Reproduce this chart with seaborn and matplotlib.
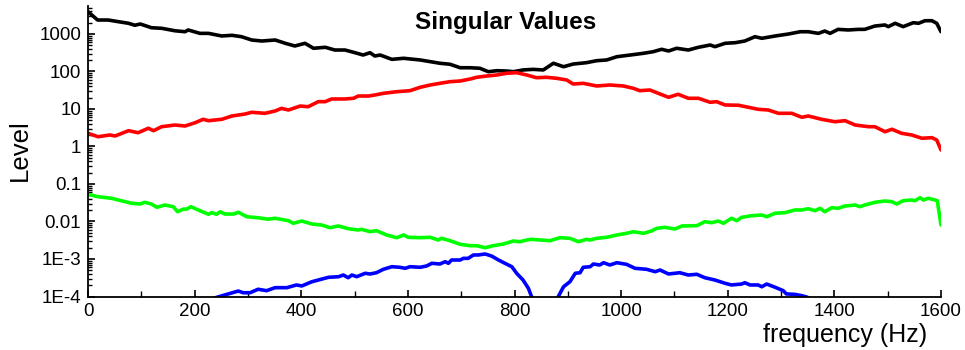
import numpy as np
import pandas as pd
import matplotlib
matplotlib.use("Agg")
import matplotlib.pyplot as plt
import seaborn as sns
from matplotlib.ticker import FixedLocator, FixedFormatter, LogLocator, NullFormatter, MultipleLocator

# ---------------- data ----------------
black_f = [0, 18, 38, 57, 76, 88, 98, 119, 138, 163, 182, 188, 210, 226, 251, 270, 288, 307, 326, 351,
           370, 388, 407, 423, 445, 463, 482, 501, 516, 529, 538, 548, 570, 592, 623, 642, 660, 679, 698,
           717, 735, 751, 767, 785, 798, 816, 835, 854, 873, 892, 910, 935, 954, 973, 992, 1017, 1042,
           1060, 1076, 1089, 1104, 1126, 1145, 1167, 1176, 1195, 1214, 1232, 1251, 1264, 1289, 1314,
           1336, 1351, 1370, 1382, 1392, 1407, 1426, 1445, 1457, 1476, 1495, 1501, 1514, 1529, 1548,
           1558, 1570, 1583, 1592, 1600]
black_v = [3940, 2360, 2360, 2130, 1930, 1710, 1850, 1470, 1420, 1220, 1150, 1280, 1040, 1040, 885, 923,
           847, 692, 650, 692, 565, 479, 565, 416, 442, 374, 374, 317, 275, 317, 259, 275, 211, 225, 203,
           183, 166, 156, 126, 126, 122, 98.8, 105, 103, 98.8, 110, 114, 110, 166, 134, 158, 172, 194,
           203, 248, 275, 306, 337, 391, 352, 416, 374, 442, 509, 459, 565, 586, 650, 847, 768, 885,
           1000, 1150, 1150, 1040, 1200, 1040, 1330, 1280, 1330, 1330, 1630, 1740, 1570, 1930, 1570,
           2000, 1930, 2260, 2260, 1930, 1150]

red_f = [0, 19, 41, 51, 76, 94, 113, 123, 138, 163, 182, 201, 216, 226, 251, 270, 295, 307, 332, 351,
         363, 376, 398, 413, 432, 445, 457, 482, 498, 507, 526, 538, 554, 579, 604, 623, 642, 660, 679,
         698, 717, 729, 748, 767, 785, 804, 823, 841, 860, 879, 898, 910, 929, 954, 979, 1004, 1023,
         1035, 1054, 1073, 1089, 1107, 1126, 1145, 1167, 1179, 1195, 1220, 1239, 1257, 1276, 1295,
         1320, 1339, 1351, 1376, 1401, 1420, 1439, 1464, 1476, 1495, 1508, 1526, 1545, 1564, 1583,
         1592, 1600]
red_v = [2.25, 1.82, 2.03, 1.91, 2.64, 2.33, 3.06, 2.64, 3.37, 3.74, 3.52, 4.31, 5.31, 4.88, 5.31, 6.51,
         7.36, 8.17, 7.68, 8.85, 10.4, 9.4, 12.0, 11.5, 15.7, 15.7, 18.5, 18.5, 19.3, 22.2, 22.2, 23.6,
         26.2, 28.9, 30.8, 37.9, 43.7, 48.4, 53.5, 55.8, 63.1, 70.0, 75.9, 80.7, 89.5, 92.9, 80.7, 68.4,
         70.0, 65.9, 59.3, 46.4, 48.4, 41.1, 43.7, 41.1, 35.6, 30.8, 32.1, 25.1, 20.5, 24.7, 19.3, 19.3,
         15.1, 15.7, 12.8, 12.6, 11.1, 9.82, 9.4, 7.68, 7.68, 6.01, 6.51, 5.31, 4.58, 4.88, 3.74, 3.37,
         3.37, 2.48, 2.88, 2.25, 2.03, 1.66, 1.72, 1.49, 0.807]

green_f = [0, 19, 44, 57, 82, 98, 106, 119, 129, 144, 160, 168, 179, 185, 193, 210, 226, 232, 241, 248,
           257, 273, 282, 298, 319, 338, 351, 376, 385, 401, 420, 438, 454, 470, 488, 507, 513, 529, 541,
           560, 579, 592, 601, 623, 642, 657, 663, 679, 698, 717, 729, 745, 760, 779, 798, 810, 823, 832,
           848, 867, 885, 904, 920, 935, 942, 954, 973, 992, 1010, 1023, 1042, 1057, 1067, 1082, 1101,
           1114, 1142, 1157, 1170, 1182, 1192, 1207, 1217, 1226, 1245, 1264, 1273, 1289, 1307, 1326,
           1339, 1351, 1364, 1373, 1382, 1395, 1407, 1420, 1439, 1448, 1457, 1476, 1495, 1508, 1517,
           1529, 1545, 1551, 1561, 1567, 1576, 1589, 1593, 1600]
green_v = [0.0531, 0.0458, 0.0416, 0.0374, 0.0306, 0.0293, 0.0325, 0.0293, 0.0239, 0.0275, 0.0248,
           0.0182, 0.0215, 0.0213, 0.0248, 0.0194, 0.0156, 0.0172, 0.0156, 0.0182, 0.0158, 0.0158,
           0.0176, 0.0134, 0.0126, 0.0115, 0.0122, 0.0105, 0.00895, 0.0103, 0.00857, 0.00807, 0.00684,
           0.00759, 0.00643, 0.00593, 0.00619, 0.00535, 0.00569, 0.00437, 0.00370, 0.00437, 0.00379,
           0.00370, 0.00379, 0.00321, 0.00356, 0.00308, 0.00247, 0.00226, 0.00226, 0.00200, 0.00226,
           0.00251, 0.00302, 0.00289, 0.00321, 0.00335, 0.00321, 0.00308, 0.00370, 0.00356, 0.00289,
           0.00335, 0.00321, 0.00356, 0.00379, 0.00437, 0.00484, 0.00535, 0.00484, 0.00558, 0.00659,
           0.00700, 0.00631, 0.00759, 0.00773, 0.00989, 0.00929, 0.0103, 0.00895, 0.0122, 0.0105,
           0.0129, 0.0143, 0.0149, 0.0134, 0.0166, 0.0172, 0.0203, 0.0203, 0.0219, 0.0194, 0.0225,
           0.0182, 0.0233, 0.0225, 0.0259, 0.0275, 0.0248, 0.0275, 0.0325, 0.0352, 0.0337, 0.0293,
           0.0359, 0.0374, 0.0359, 0.0431, 0.0374, 0.0416, 0.0374, 0.0359, 0.00807]

blue_f = [236, 263, 282, 291, 304, 319, 335, 351, 373, 391, 401, 420, 432, 451, 470, 479, 488, 495, 504,
          520, 529, 541, 554, 570, 585, 595, 604, 623, 635, 645, 660, 670, 676, 682, 698, 704, 713, 723,
          732, 745, 757, 770, 782, 795, 804, 816, 826, 832, 845, 857, 870, 882, 892, 904, 914, 923, 929,
          942, 948, 960, 967, 979, 992, 1010, 1026, 1048, 1064, 1073, 1089, 1110, 1126, 1142, 1157,
          1176, 1195, 1207, 1226, 1232, 1242, 1257, 1264, 1273, 1289, 1304, 1310, 1326, 1339, 1348, 1360]
blue_v = [0.9e-4, 1.17e-4, 1.40e-4, 1.26e-4, 1.26e-4, 1.56e-4, 1.43e-4, 1.72e-4, 1.72e-4, 2.03e-4,
          1.91e-4, 2.48e-4, 2.75e-4, 3.25e-4, 3.37e-4, 3.74e-4, 3.17e-4, 3.74e-4, 3.37e-4, 4.16e-4,
          3.98e-4, 4.31e-4, 5.31e-4, 6.23e-4, 6.01e-4, 5.65e-4, 6.23e-4, 6.01e-4, 6.51e-4, 7.68e-4,
          7.36e-4, 8.47e-4, 7.68e-4, 9.40e-4, 9.40e-4, 1.04e-3, 1.04e-3, 1.28e-3, 1.28e-3, 1.36e-3,
          1.20e-3, 9.40e-4, 7.68e-4, 6.23e-4, 4.16e-4, 2.75e-4, 1.66e-4, 0.99e-4, 3e-5, 1e-5, 3e-5,
          0.99e-4, 1.82e-4, 2.48e-4, 4.16e-4, 4.31e-4, 6.01e-4, 6.23e-4, 7.36e-4, 6.92e-4, 7.97e-4,
          6.92e-4, 7.97e-4, 7.22e-4, 5.65e-4, 5.31e-4, 4.58e-4, 5.09e-4, 3.98e-4, 4.31e-4, 3.74e-4,
          3.91e-4, 3.17e-4, 2.75e-4, 2.25e-4, 2.03e-4, 2.15e-4, 2.33e-4, 2.03e-4, 2.03e-4, 1.82e-4,
          2.15e-4, 1.76e-4, 1.43e-4, 1.17e-4, 1.14e-4, 1.05e-4, 0.97e-4, 0.8e-4]

series = [
    ("s1", black_f, black_v, "#000000"),
    ("s2", red_f, red_v, "#ff0000"),
    ("s3", green_f, green_v, "#00ff00"),
    ("s4", blue_f, blue_v, "#0000ff"),
]

y_ticks = [1e-4, 1e-3, 1e-2, 1e-1, 1, 10, 100, 1000]
y_tick_labels = ["1E-4", "1E-3", "0.01", "0.1", "1", "10", "100", "1000"]
x_ticks = [0, 200, 400, 600, 800, 1000, 1200, 1400, 1600]

# ---------------- style ----------------
sns.set_style("white")
plt.rcParams["font.family"] = ["Liberation Sans", "DejaVu Sans"]
plt.rcParams["text.color"] = "black"
plt.rcParams["axes.labelcolor"] = "black"

fig = plt.figure(figsize=(9.65, 3.5), dpi=100)
ax = fig.add_axes([88 / 965, 53.5 / 350, 853 / 965, 290.5 / 350])

for name, f, v, c in series:
    df = pd.DataFrame({"frequency": f, "level": v})
    sns.lineplot(data=df, x="frequency", y="level", ax=ax, color=c, lw=2.6,
                 sort=False, estimator=None)

ax.set_yscale("log")
ax.set_xlim(0, 1600)
ax.set_ylim(1e-4, 5580)

ax.yaxis.set_major_locator(FixedLocator(y_ticks))
ax.yaxis.set_major_formatter(FixedFormatter(y_tick_labels))
ax.yaxis.set_minor_locator(LogLocator(base=10, subs=np.arange(2, 10), numticks=20))
ax.yaxis.set_minor_formatter(NullFormatter())
ax.xaxis.set_major_locator(FixedLocator(x_ticks))
ax.xaxis.set_minor_locator(MultipleLocator(100))

ax.tick_params(axis="both", which="major", direction="in", length=5, width=1.2,
               labelsize=13.5, colors="black", pad=5)
ax.tick_params(axis="both", which="minor", direction="in", length=3, width=1.0, colors="black")
ax.tick_params(axis="x", which="minor", length=4)
ax.tick_params(axis="y", which="both", left=True)
ax.tick_params(axis="x", which="both", bottom=True)

for s in ["top", "right"]:
    ax.spines[s].set_visible(False)
for s in ["left", "bottom"]:
    ax.spines[s].set_color("black")
    ax.spines[s].set_linewidth(1.3)

ax.set_xlabel("frequency (Hz)", fontsize=18, loc="right", color="black")
ax.xaxis.set_label_coords(0.984, -0.09)
ax.set_ylabel("Level", fontsize=18.5, color="black")
ax.yaxis.set_label_coords(-0.066, 0.505)

ax.text(0.49, 0.942, "Singular Values", transform=ax.transAxes, ha="center", va="center",
        fontsize=17.5, fontweight="bold", color="black")

fig.savefig("out.png", dpi=100)
